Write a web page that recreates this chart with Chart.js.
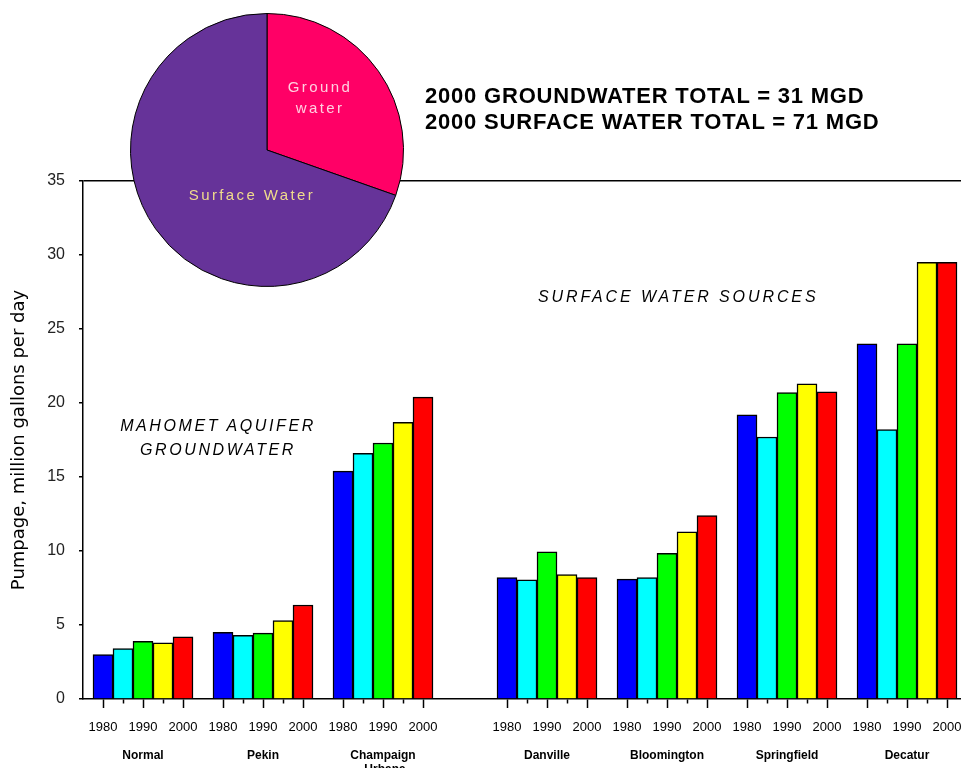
<!DOCTYPE html>
<html>
<head>
<meta charset="utf-8">
<title>Pumpage by city, 1980-2000</title>
<script src="https://cdn.jsdelivr.net/npm/chart.js@4/dist/chart.umd.min.js"></script>
<style>
    body { margin: 0; background: #fff; }
    #wrap { position: relative; width: 961px; height: 768px; overflow: hidden; }
    #barChart { position: absolute; left: 0; top: 0; }
    #pieChart { position: absolute; left: 130px; top: 13px; }
    .note { position: absolute; white-space: nowrap; font-family: 'Liberation Sans', Arial, sans-serif; color: #000; }
    #totals { left: 425px; top: 83px; font-size: 22px; font-weight: bold; line-height: 26px; letter-spacing: 0.8px; }
    #aquifer { left: 68px; top: 414px; width: 300px; text-align: center; font-size: 16px; font-style: italic; line-height: 24px; letter-spacing: 2.6px; }
    #surface { left: 538px; top: 287px; font-size: 16px; font-style: italic; line-height: 20px; letter-spacing: 2.9px; }
    #pieGround { left: 270px; top: 76px; width: 100px; text-align: center; font-size: 15px; line-height: 21px; letter-spacing: 2.4px; color: #ffd0e0; }
    #pieSurface { left: 172px; top: 184px; width: 160px; text-align: center; font-size: 15px; line-height: 21px; letter-spacing: 2.4px; color: #f0dc8c; }
</style>
</head>
<body>
<div id="wrap">
    <canvas id="barChart" width="961" height="768"></canvas>
    <canvas id="pieChart" width="274" height="274"></canvas>
    <div class="note" id="totals">2000 GROUNDWATER TOTAL = 31 MGD<br>2000 SURFACE WATER TOTAL = 71 MGD</div>
    <div class="note" id="aquifer">MAHOMET AQUIFER<br>GROUNDWATER</div>
    <div class="note" id="surface">SURFACE WATER SOURCES</div>
    <div class="note" id="pieGround">Ground<br>water</div>
    <div class="note" id="pieSurface">Surface Water</div>
</div>

<script>
// ---- data ----
const cities = ['Normal', 'Pekin', ['Champaign', '-Urbana'], 'Danville', 'Bloomington', 'Springfield', 'Decatur'];
const years = ['1980', '1985', '1990', '1995', '2000'];

// pumpage, million gallons per day (one array per year, in city order)
const pump1980 = [3.0, 4.5, 15.4, 8.2, 8.1, 19.2, 24.0];
const pump1985 = [3.4, 4.3, 16.6, 8.05, 8.2, 17.7, 18.2];
const pump1990 = [3.9, 4.45, 17.3, 9.95, 9.85, 20.7, 24.0];
const pump1995 = [3.8, 5.3, 18.7, 8.4, 11.3, 21.3, 29.5];
const pump2000 = [4.2, 6.35, 20.4, 8.2, 12.4, 20.75, 29.5];

const yTicks = [0, 5, 10, 15, 20, 25, 30, 35];

// 2000 totals for the pie
const pieLabels = ['Ground water', 'Surface Water'];
const pieTotals = [31, 71];

// ---- styling ----
const yearColors = ['#0000ff', '#00ffff', '#00ff00', '#ffff00', '#ff0000'];
const pieColors = ['#ff0066', '#663399'];
const SLOT_MAX = 43.9;      // x axis length in bar slots
const SURFACE_SHIFT = 2.2;  // extra space between groundwater and surface water cities
const FIRST_SURFACE = 3;    // index of first surface water city

Chart.defaults.font.family = "'Liberation Sans', Arial, sans-serif";
Chart.defaults.color = '#000';

document.addEventListener('DOMContentLoaded', function () {
    const series = [pump1980, pump1985, pump1990, pump1995, pump2000];

    // x position (in slots) of a bar: 5 bars + one empty slot per city
    function slotOf(city, year) {
        return 1 + city * 6 + year + (city >= FIRST_SURFACE ? SURFACE_SHIFT : 0);
    }

    const barTicks = [];
    cities.forEach((c, g) => years.forEach((y, k) => barTicks.push(slotOf(g, k))));
    const cityTicks = cities.map((c, g) => slotOf(g, 2));

    // one dataset per year, bars overlapping their own slot
    const datasets = years.map((year, k) => ({
        label: year,
        data: cities.map((c, g) => ({ x: slotOf(g, k), y: series[k][g] })),
        backgroundColor: yearColors[k],
        borderColor: '#000',
        borderWidth: 1.5,
        grouped: false,
        barPercentage: 1,
        categoryPercentage: 1
    }));

    new Chart(document.getElementById('barChart'), {
        type: 'bar',
        data: { datasets },
        options: {
            responsive: false,
            animation: false,
            layout: { padding: { top: 181, left: 0, right: 0, bottom: 0 } },
            plugins: { legend: { display: false }, tooltip: { enabled: false } },
            scales: {
                x: {
                    type: 'linear',
                    position: 'bottom',
                    offset: false,
                    weight: 0,
                    min: 0,
                    max: SLOT_MAX,
                    afterBuildTicks: axis => { axis.ticks = barTicks.map(v => ({ value: v })); },
                    afterFit: axis => { axis.height = 40; axis.paddingLeft = 0; axis.paddingRight = 0; },
                    grid: {
                        offset: false,
                        drawOnChartArea: false,
                        tickLength: 9,
                        tickColor: '#000',
                        tickWidth: 1.5,
                        // in-between years get a short tick
                        tickBorderDash: ctx => (ctx.index % 5) % 2 === 1 ? [4, 30] : []
                    },
                    border: { color: '#000', width: 1.5 },
                    ticks: {
                        autoSkip: false,
                        maxRotation: 0,
                        padding: 12,
                        font: { size: 13 },
                        callback: (v, i) => (i % 5) % 2 === 0 ? years[i % 5] : ''
                    }
                },
                xg: {
                    type: 'linear',
                    position: 'bottom',
                    offset: false,
                    weight: 1,
                    min: 0,
                    max: SLOT_MAX,
                    afterBuildTicks: axis => { axis.ticks = cityTicks.map(v => ({ value: v })); },
                    afterFit: axis => { axis.height = 29; axis.paddingLeft = 0; axis.paddingRight = 0; },
                    grid: { display: false, drawTicks: false, offset: false },
                    border: { display: false },
                    ticks: {
                        autoSkip: false,
                        maxRotation: 0,
                        padding: 9,
                        font: { size: 12, weight: 'bold' },
                        callback: (v, i) => cities[i]
                    }
                },
                y: {
                    min: 0,
                    max: 35,
                    afterBuildTicks: axis => { axis.ticks = yTicks.map(v => ({ value: v })); },
                    afterFit: axis => { axis.width = 83; },
                    grid: {
                        color: ctx => ctx.tick && ctx.tick.value === 35 ? '#000' : 'rgba(0,0,0,0)',
                        lineWidth: 1.5,
                        tickColor: '#000',
                        tickLength: 4
                    },
                    border: { color: '#000', width: 1.5 },
                    ticks: { padding: 14, font: { size: 16 }, color: '#222' },
                    title: {
                        display: true,
                        text: 'Pumpage, million gallons per day',
                        font: { size: 18, family: "'DejaVu Sans', sans-serif" },
                        padding: { top: 9, bottom: 0 }
                    }
                }
            }
        }
    });

    // 2000 totals pie, laid over the top of the bar chart
    new Chart(document.getElementById('pieChart'), {
        type: 'pie',
        data: {
            labels: pieLabels,
            datasets: [{
                data: pieTotals,
                backgroundColor: pieColors,
                borderColor: '#000',
                borderWidth: 1
            }]
        },
        options: {
            responsive: false,
            animation: false,
            plugins: { legend: { display: false }, tooltip: { enabled: false } }
        }
    });
});
</script>
</body>
</html>
